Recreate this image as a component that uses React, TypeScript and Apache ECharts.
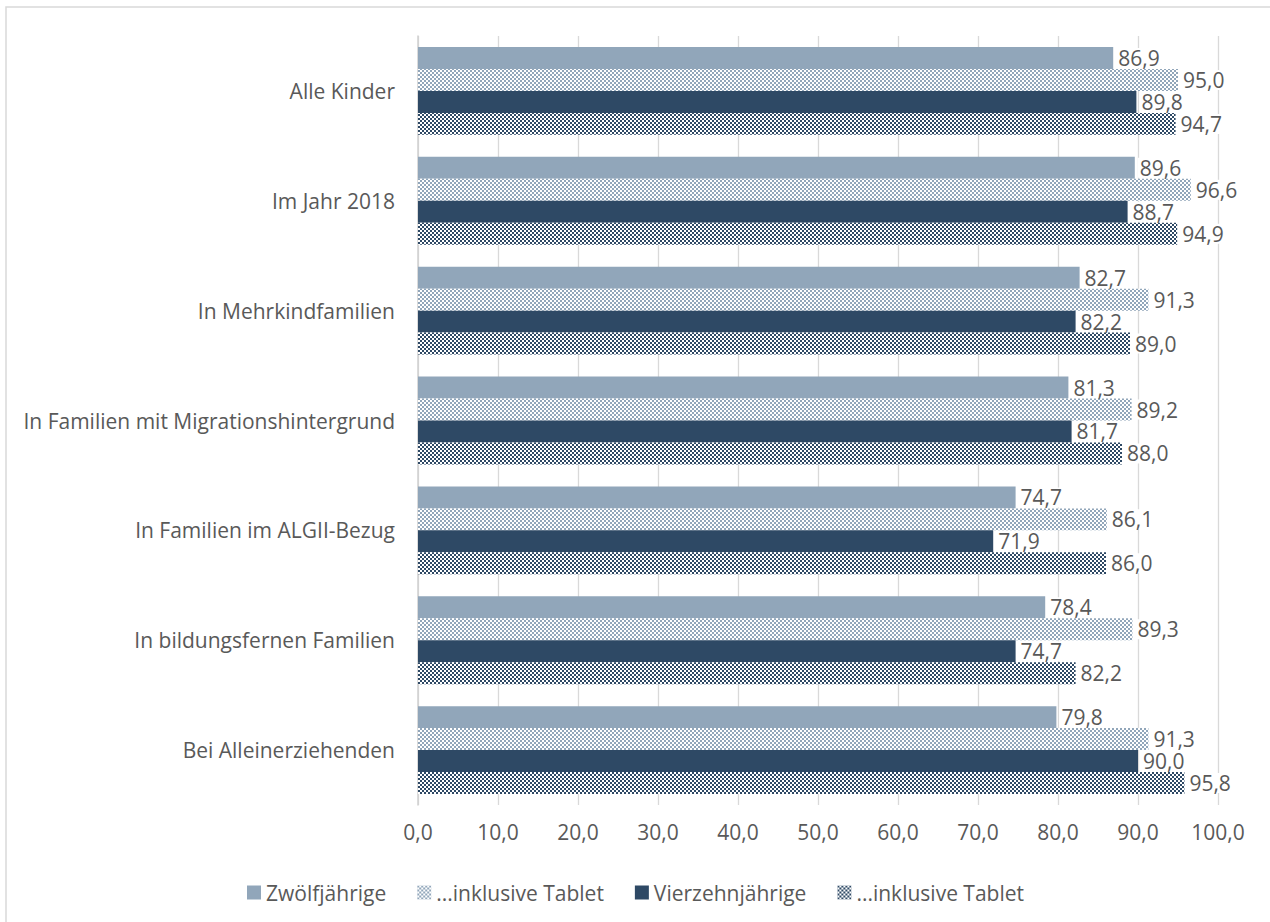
import React, { useEffect, useRef } from "react";
import * as echarts from "echarts";

const categories = [
  "Alle Kinder",
  "Im Jahr 2018",
  "In Mehrkindfamilien",
  "In Familien mit Migrationshintergrund",
  "In Familien im ALGII-Bezug",
  "In bildungsfernen Familien",
  "Bei Alleinerziehenden",
];
const zwoelf = [86.9, 89.6, 82.7, 81.3, 74.7, 78.4, 79.8];
const zwoelfTablet = [95.0, 96.6, 91.3, 89.2, 86.1, 89.3, 91.3];
const vierzehn = [89.8, 88.7, 82.2, 81.7, 71.9, 74.7, 90.0];
const vierzehnTablet = [94.7, 94.9, 89.0, 88.0, 86.0, 82.2, 95.8];
const xTicks = { min: 0, max: 100, interval: 10 };

const legendNames: Record<string, string> = {
  z12: "Zwölfjährige",
  t12: "...inklusive Tablet",
  z14: "Vierzehnjährige",
  t14: "...inklusive Tablet",
};

const FONT = "'Open Sans', sans-serif";
const TXT = "#595959";

function makeChecker(color: string) {
  const c = document.createElement("canvas");
  c.width = 4;
  c.height = 4;
  const ctx = c.getContext("2d")!;
  ctx.fillStyle = "#ffffff";
  ctx.fillRect(0, 0, 4, 4);
  ctx.fillStyle = color;
  ctx.fillRect(0, 0, 2, 2);
  ctx.fillRect(2, 2, 2, 2);
  return { image: c.toDataURL(), repeat: "repeat", imageWidth: 4, imageHeight: 4 } as any;
}

const fmt = (v: number) => v.toFixed(1).replace(".", ",");

export default function App() {
  const ref = useRef<HTMLDivElement>(null);
  useEffect(() => {
    if (!ref.current) return;
    const chart = echarts.init(ref.current, undefined, { renderer: "svg" });
    const label = {
      show: true,
      position: "right",
      distance: 3,
      formatter: (p: any) => fmt(p.value),
      fontFamily: FONT,
      fontSize: 21,
      lineHeight: 20,
      color: TXT,
      backgroundColor: "#ffffff",
      padding: [0, 2, 0, 2],
    };
    const mk = (id: string, data: number[], color: any) => ({
      type: "bar",
      name: id,
      data,
      barGap: "0%",
      barCategoryGap: "20%",
      itemStyle: { color },
      label,
      emphasis: { disabled: true },
    });
    chart.setOption({
      animation: false,
      textStyle: { fontFamily: FONT },
      graphic: [
        {
          type: "rect",
          shape: { x: 6, y: 7, width: 1400, height: 1100 },
          style: { fill: "none", stroke: "#d9d9d9", lineWidth: 1.5 },
          silent: true,
          z: -10,
        },
      ],
      grid: { left: 418, top: 36, width: 800, height: 769, containLabel: false },
      legend: {
        data: ["z12", "t12", "z14", "t14"],
        formatter: (n: string) => legendNames[n],
        left: 242,
        top: 877,
        icon: "rect",
        itemWidth: 14,
        itemHeight: 14,
        itemGap: 31,
        textStyle: { fontFamily: FONT, fontSize: 21, color: TXT },
        selectedMode: false,
      },
      xAxis: {
        type: "value",
        min: xTicks.min,
        max: xTicks.max,
        interval: xTicks.interval,
        axisLine: { show: false },
        axisTick: { show: false },
        splitLine: { show: true, lineStyle: { color: "#d9d9d9", width: 1.3 } },
        axisLabel: {
          formatter: (v: number) => fmt(v),
          fontFamily: FONT,
          fontSize: 21,
          color: TXT,
          margin: 16,
        },
      },
      yAxis: {
        type: "category",
        data: categories,
        inverse: true,
        axisLine: { show: true, lineStyle: { color: "#d0d0d0", width: 1.5 } },
        axisTick: { show: false },
        axisLabel: { fontFamily: FONT, fontSize: 21, color: TXT, margin: 23 },
      },
      series: [
        mk("z12", zwoelf, "#91a6ba"),
        mk("t12", zwoelfTablet, makeChecker("#91a6ba")),
        mk("z14", vierzehn, "#2e4965"),
        mk("t14", vierzehnTablet, makeChecker("#2e4965")),
      ],
    });
    return () => chart.dispose();
  }, []);
  return (
    <div
      ref={ref}
      style={{ position: "fixed", left: 0, top: 0, width: 1270, height: 922, background: "#fff" }}
    />
  );
}
